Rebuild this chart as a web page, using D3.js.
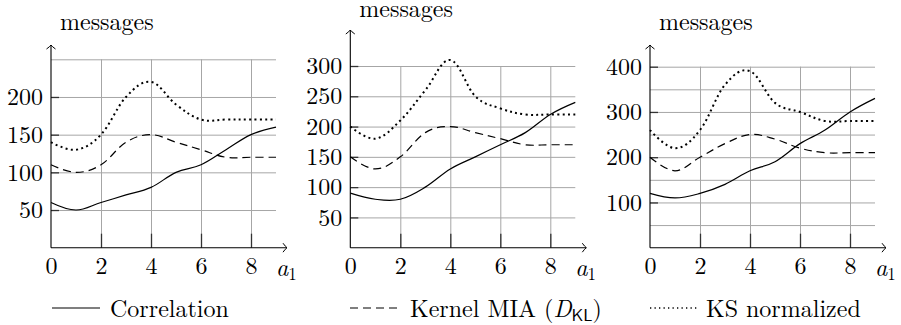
<!DOCTYPE html>
<html>
<head>
<meta charset="utf-8">
<script src="https://cdn.jsdelivr.net/npm/d3@7"></script>
<style>
  body { margin: 0; background: #fff; }
  svg { display: block; }
</style>
</head>
<body>
<div id="chart"></div>
<script>
// data
const xValues = [0, 1, 2, 3, 4, 5, 6, 7, 8, 9];
const xTicks = [0, 2, 4, 6, 8];

const corr1 = [60, 50, 60, 70, 80, 100, 110, 130, 150, 160];
const kmia1 = [110, 100, 110, 140, 150, 140, 130, 120, 120, 120];
const ks1 = [140, 130, 150, 200, 220, 190, 170, 170, 170, 170];
const yTicks1 = [50, 100, 150, 200];
const yGrid1 = [50, 100, 150, 200, 250];

const corr2 = [90, 80, 80, 100, 130, 150, 170, 190, 220, 240];
const kmia2 = [150, 130, 150, 190, 200, 190, 180, 170, 170, 170];
const ks2 = [200, 180, 210, 260, 310, 250, 230, 220, 220, 220];
const yTicks2 = [50, 100, 150, 200, 250, 300];
const yGrid2 = [50, 100, 150, 200, 250, 300];

const corr3 = [120, 110, 120, 140, 170, 190, 230, 260, 300, 330];
const kmia3 = [200, 170, 200, 230, 250, 240, 220, 210, 210, 210];
const ks3 = [260, 220, 260, 360, 390, 320, 300, 280, 280, 280];
const yTicks3 = [100, 200, 300, 400];
const yGrid3 = [50, 100, 150, 200, 250, 300, 350, 400];

const seriesNames = ["Correlation", "Kernel MIA", "KS normalized"];

// layout
const W = 901, H = 325;
const axisY = 247.7;
const plotW = 225;
const LM = '"Latin Modern Roman", "Liberation Serif", serif';
const LMS = '"Latin Modern Sans", "Liberation Sans", sans-serif';

const panels = [
  { x0: 51, yMax: 250, topPx: 59.3, tipY: 45, labelY: 29.5, corr: corr1, kmia: kmia1, ks: ks1, ticks: yTicks1, grid: yGrid1 },
  { x0: 350.3, yMax: 300, topPx: 66, tipY: 30, labelY: 16.5, corr: corr2, kmia: kmia2, ks: ks2, ticks: yTicks2, grid: yGrid2 },
  { x0: 650, yMax: 400, topPx: 66.7, tipY: 45, labelY: 29.5, corr: corr3, kmia: kmia3, ks: ks3, ticks: yTicks3, grid: yGrid3 },
];

const styles = [
  { width: 1.2, dash: null },
  { width: 1.2, dash: "8 5" },
  { width: 2, dash: "2 3.3" },
];

const svg = d3.select("#chart").append("svg")
  .attr("width", W).attr("height", H);

svg.append("rect").attr("width", W).attr("height", H).attr("fill", "#fff");

function serifText(sel) {
  sel.style("font-family", LM).style("font-size", "24px").attr("fill", "#000");
}

panels.forEach((p) => {
  const x = d3.scaleLinear().domain([0, 9]).range([p.x0, p.x0 + plotW]);
  const y = d3.scaleLinear().domain([0, p.yMax]).range([axisY, p.topPx]);
  const g = svg.append("g");

  // grille
  g.append("g")
    .attr("transform", `translate(${p.x0},0)`)
    .call(d3.axisLeft(y).tickValues(p.grid).tickSize(-plotW).tickFormat(""))
    .call((s) => s.select(".domain").remove())
    .call((s) => s.selectAll("line").attr("stroke", "#a6a6a6").attr("stroke-width", 1));

  g.append("g")
    .attr("transform", `translate(0,${axisY})`)
    .call(d3.axisBottom(x).tickValues(xTicks.slice(1)).tickSize(-(axisY - p.topPx)).tickFormat(""))
    .call((s) => s.select(".domain").remove())
    .call((s) => s.selectAll("line").attr("stroke", "#a6a6a6").attr("stroke-width", 1));

  // ticks
  g.append("g")
    .attr("transform", `translate(0,${axisY})`)
    .call(d3.axisBottom(x).tickValues(xTicks.slice(1)).tickSize(-14).tickFormat(""))
    .call((s) => s.select(".domain").remove())
    .call((s) => s.selectAll("line").attr("stroke", "#333").attr("stroke-width", 1.3));

  g.append("g")
    .attr("transform", `translate(${p.x0},0)`)
    .call(d3.axisLeft(y).tickValues(p.ticks).tickSize(-8).tickFormat(""))
    .call((s) => s.select(".domain").remove())
    .call((s) => s.selectAll("line").attr("stroke", "#333").attr("stroke-width", 1.3));

  // tick labels
  g.append("g")
    .attr("transform", `translate(${p.x0},0)`)
    .call(d3.axisLeft(y).tickValues(p.ticks).tickSize(0).tickPadding(8))
    .call((s) => s.select(".domain").remove())
    .call((s) => s.selectAll("text").call(serifText).attr("dy", "0.32em"));

  g.append("g")
    .attr("transform", `translate(0,${axisY})`)
    .call(d3.axisBottom(x).tickValues(xTicks).tickSize(0).tickPadding(9))
    .call((s) => s.select(".domain").remove())
    .call((s) => s.selectAll("text").call(serifText).attr("dy", "0.71em"));

  // axes avec flèches
  const ox = x(0), tipX = x(9) + 11, ty = p.tipY;
  g.append("path")
    .attr("d", `M ${ox} ${axisY} H ${tipX} M ${ox} ${axisY} V ${ty}`)
    .attr("stroke", "#000").attr("stroke-width", 1.1).attr("fill", "none");
  g.append("path")
    .attr("d", `M ${tipX - 4} ${axisY - 4.5} Q ${tipX - 1.5} ${axisY - 1} ${tipX} ${axisY} Q ${tipX - 1.5} ${axisY + 1} ${tipX - 4} ${axisY + 4.5}`)
    .attr("stroke", "#000").attr("stroke-width", 1).attr("fill", "none");
  g.append("path")
    .attr("d", `M ${ox - 4.5} ${ty + 4} Q ${ox - 1} ${ty + 1.5} ${ox} ${ty} Q ${ox + 1} ${ty + 1.5} ${ox + 4.5} ${ty + 4}`)
    .attr("stroke", "#000").attr("stroke-width", 1).attr("fill", "none");

  // labels
  g.append("text")
    .attr("x", ox + 9).attr("y", p.labelY)
    .call(serifText)
    .text("messages");

  const al = g.append("text")
    .attr("x", x(9)).attr("y", 276)
    .call(serifText);
  al.append("tspan").style("font-style", "italic").text("a");
  al.append("tspan").style("font-size", "17px").attr("dy", 4).text("1");

  // courbes
  [p.corr, p.kmia, p.ks].forEach((vals, i) => {
    const line = d3.line()
      .x((d, j) => x(xValues[j]))
      .y((d) => y(d))
      .curve(d3.curveCardinal.tension(-0.1));
    g.append("path")
      .datum(vals)
      .attr("fill", "none")
      .attr("stroke", "#000")
      .attr("stroke-width", styles[i].width)
      .attr("stroke-dasharray", styles[i].dash)
      .attr("d", line);
  });
});

// légende
const legendItems = [
  { x1: 52, x2: 100, tx: 110, width: 1.2, dash: null },
  { x1: 350, x2: 397, tx: 410, width: 1.2, dash: "8 5" },
  { x1: 650, x2: 699, tx: 706, width: 1.3, dash: "1.3 3.2" },
];
const legend = svg.append("g");
legendItems.forEach((it, i) => {
  legend.append("line")
    .attr("x1", it.x1).attr("x2", it.x2)
    .attr("y1", 308).attr("y2", 308)
    .attr("stroke", "#000")
    .attr("stroke-width", it.width)
    .attr("stroke-dasharray", it.dash);
  const t = legend.append("text")
    .attr("x", it.tx).attr("y", 317)
    .call(serifText);
  if (i === 1) {
    t.append("tspan").text(seriesNames[1] + " (");
    t.append("tspan").style("font-style", "italic").text("D");
    t.append("tspan").style("font-family", LMS).style("font-size", "17px").attr("dy", 4).text("KL");
    t.append("tspan").attr("dy", -4).text(")");
  } else {
    t.text(seriesNames[i]);
  }
});
</script>
</body>
</html>
